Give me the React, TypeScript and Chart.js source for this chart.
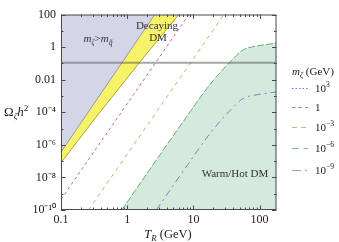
import React, { useEffect, useRef } from "react";
import { Chart, registerables } from "chart.js";

Chart.register(...registerables);

// ---- axis ranges ----
const X_MIN = 0.1;
const X_MAX = 180;
const Y_MIN = 1e-10;
const Y_MAX = 100;

// ---- tick values ----
const yTickValues = [1e-10, 1e-9, 1e-8, 1e-7, 1e-6, 1e-5, 1e-4, 1e-3, 1e-2, 1e-1, 1, 10, 100];
const xTickValues = [0.1, 1, 10, 100];

// ---- region boundaries (T_R in GeV, Omega h^2) ----
const purpleT = [0.1, 2.61];
const purpleOmega = [3.6e-7, 100];
const yellowT = [0.1, 0.322, 1.6, 6.03];
const yellowOmega = [7.8e-8, 3.9e-5, 0.14, 100];
const relicT = [0.1, 180];
const relicOmega = [0.11, 0.11];

// ---- m_zeta curves ----
const pinkT = [0.1, 8.57]; // m = 1 GeV
const pinkOmega = [4.5e-10, 100];
const oliveT = [0.261, 29]; // m = 1e-3 GeV
const oliveOmega = [1e-10, 100];
const greenT = [0.826, 8.26, 17.8, 35.7, 56.2, 91.6, 144, 180]; // m = 1e-6 GeV
const greenOmega = [1e-10, 6.8e-5, 5.0e-3, 0.122, 0.664, 1.17, 1.55, 1.78];
const blueT = [2.75, 8.26, 17.8, 35.7, 56.2, 91.6, 144, 180]; // m = 1e-9 GeV
const blueOmega = [1e-10, 6.3e-8, 5.0e-6, 1.26e-4, 6.9e-4, 1.2e-3, 1.58e-3, 1.78e-3];

// ---- legend ----
const legendBase = ["10", "1", "10", "10", "10"];
const legendExp = ["3", "", "\u22123", "\u22126", "\u22129"];
const legendColors = ["#7a7ac4", "#c76f9e", "#c9b877", "#7cc28e", "#8ea6d6"];
const legendDashes = [[1.5, 2], [3.5, 3], [5, 4], [7, 4.5], [9, 4, 2, 4]];
const legendY = [88, 107, 127, 148, 170];

const FONT = '"Liberation Serif", "Times New Roman", serif';

type Seg = { t: string; it?: boolean; pos?: "sub" | "sup" };

function drawRich(
  ctx: CanvasRenderingContext2D,
  segs: Seg[],
  x: number,
  y: number,
  size: number,
  align: "left" | "center" | "right",
  color = "#1a1a1a"
) {
  const fontFor = (s: Seg) => `${s.it ? "italic " : ""}${s.pos ? size * 0.7 : size}px ${FONT}`;
  let w = 0;
  for (const s of segs) {
    ctx.font = fontFor(s);
    w += ctx.measureText(s.t).width;
  }
  let cx = align === "center" ? x - w / 2 : align === "right" ? x - w : x;
  ctx.textAlign = "left";
  ctx.textBaseline = "alphabetic";
  ctx.fillStyle = color;
  for (const s of segs) {
    ctx.font = fontFor(s);
    const dy = s.pos === "sub" ? size * 0.25 : s.pos === "sup" ? -size * 0.42 : 0;
    ctx.fillText(s.t, cx, y + dy);
    cx += ctx.measureText(s.t).width;
  }
}

const supMap: Record<string, string> = {
  "-": "\u207B", "0": "\u2070", "1": "\u00B9", "2": "\u00B2", "3": "\u00B3", "4": "\u2074",
  "5": "\u2075", "6": "\u2076", "7": "\u2077", "8": "\u2078", "9": "\u2079",
};

function yLabel(v: number): string {
  const e = Math.round(Math.log10(v));
  if (e % 2 !== 0) return "";
  if (e === 2) return "100";
  if (e === 0) return "1";
  if (e === -2) return "0.01";
  return "10" + String(e).split("").map((c) => supMap[c]).join("");
}

const pts = (xs: number[], ys: number[]) => xs.map((x, i) => ({ x, y: ys[i] }));

const framePlugin = {
  id: "frameTicks",
  afterDatasetsDraw(chart: any) {
    const { ctx, chartArea: a, scales } = chart;
    ctx.save();
    ctx.strokeStyle = "#4a4a4a";
    ctx.lineWidth = 1;
    ctx.strokeRect(a.left + 0.5, a.top + 0.5, a.right - a.left - 1, a.bottom - a.top - 1);
    ctx.beginPath();
    for (const v of yTickValues) {
      const e = Math.round(Math.log10(v));
      const len = e % 2 === 0 ? 4.5 : 2.5;
      const p = Math.round(scales.y.getPixelForValue(v)) + 0.5;
      ctx.moveTo(a.left, p);
      ctx.lineTo(a.left + len, p);
      ctx.moveTo(a.right, p);
      ctx.lineTo(a.right - len, p);
    }
    for (const d of xTickValues) {
      for (let k = 1; k <= 9; k++) {
        const v = d * k;
        if (v > X_MAX * 1.0001) break;
        const len = k === 1 ? 4.5 : 2.5;
        const p = Math.round(scales.x.getPixelForValue(v)) + 0.5;
        ctx.moveTo(p, a.bottom);
        ctx.lineTo(p, a.bottom - len);
        ctx.moveTo(p, a.top);
        ctx.lineTo(p, a.top + len);
      }
    }
    ctx.stroke();
    ctx.restore();
  },
  afterDraw(chart: any) {
    const ctx: CanvasRenderingContext2D = chart.ctx;
    ctx.save();
    // axis titles
    drawRich(ctx, [{ t: "\u03A9" }, { t: "\u03B6", it: true, pos: "sub" }, { t: "h", it: true }, { t: "2", pos: "sup" }], 4, 116, 13, "left");
    drawRich(ctx, [{ t: "T", it: true }, { t: "R", it: true, pos: "sub" }, { t: " (GeV)" }], 168, 238, 12.5, "center");
    // region labels
    drawRich(ctx, [{ t: "m", it: true }, { t: "\u03B6", it: true, pos: "sub" }, { t: ">" }, { t: "m", it: true }, { t: "q\u0303", it: true, pos: "sub" }], 98, 42, 11, "center", "#333");
    drawRich(ctx, [{ t: "Decaying" }], 157, 29, 11, "center", "#333");
    drawRich(ctx, [{ t: "DM" }], 158, 41, 11, "center", "#333");
    drawRich(ctx, [{ t: "Warm/Hot DM" }], 235, 177, 11, "center", "#333");
    // legend
    drawRich(ctx, [{ t: "m", it: true }, { t: "\u03B6", it: true, pos: "sub" }, { t: " (GeV)" }], 292, 75, 11, "left");
    for (let i = 0; i < legendBase.length; i++) {
      const y = legendY[i] + 0.5;
      ctx.save();
      ctx.strokeStyle = legendColors[i];
      ctx.lineWidth = 1;
      ctx.setLineDash(legendDashes[i]);
      ctx.beginPath();
      ctx.moveTo(292, y);
      ctx.lineTo(308, y);
      ctx.stroke();
      ctx.restore();
      const segs: Seg[] = [{ t: legendBase[i] }];
      if (legendExp[i]) segs.push({ t: legendExp[i], pos: "sup" });
      drawRich(ctx, segs, 315, legendY[i] + 4, 11, "left");
    }
    ctx.restore();
  },
};

export default function App() {
  const ref = useRef<HTMLCanvasElement | null>(null);
  useEffect(() => {
    document.body.style.margin = "0";
    const canvas = ref.current;
    if (!canvas) return;
    const chart = new Chart(canvas, {
      type: "line",
      data: {
        datasets: [
          { label: "relic", data: pts(relicT, relicOmega), borderColor: "rgba(95,95,95,0.55)", borderWidth: 2, fill: false },
          { label: "1e-9", data: pts(blueT, blueOmega), borderColor: "#6d88c4", borderWidth: 1, borderDash: [7, 4, 2, 4], fill: false, cubicInterpolationMode: "monotone" },
          { label: "1e-6", data: pts(greenT, greenOmega), borderColor: "#5fb173", borderWidth: 1, borderDash: [7, 2], fill: "start", backgroundColor: "#d5eadc", cubicInterpolationMode: "monotone" },
          { label: "1", data: pts(pinkT, pinkOmega), borderColor: "#c76497", borderWidth: 1, borderDash: [3, 3], fill: false },
          { label: "1e-3", data: pts(oliveT, oliveOmega), borderColor: "#c4b06c", borderWidth: 1, borderDash: [4, 4], fill: false },
          { label: "purple", data: pts(purpleT, purpleOmega), borderColor: "#8c8c6a", borderWidth: 0.8, fill: "end", backgroundColor: "#d5d5e8" },
          { label: "yellow", data: pts(yellowT, yellowOmega), borderColor: "#8c8c50", borderWidth: 0.8, fill: "end", backgroundColor: "#f6f26a" },
        ],
      },
      options: {
        animation: false,
        responsive: false,
        events: [],
        layout: { padding: { left: 0, top: 14.5, right: 62.5, bottom: 0 } },
        elements: { point: { radius: 0 }, line: { tension: 0 } },
        plugins: {
          legend: { display: false },
          tooltip: { enabled: false },
          filler: { drawTime: "beforeDatasetDraw" },
        } as any,
        scales: {
          x: {
            type: "logarithmic",
            min: X_MIN,
            max: X_MAX,
            grid: { display: false, drawTicks: false },
            border: { display: false },
            afterBuildTicks: (scale: any) => {
              scale.ticks = xTickValues.map((v) => ({ value: v }));
            },
            afterFit: (scale: any) => {
              scale.height = 32;
            },
            ticks: {
              autoSkip: false,
              maxRotation: 0,
              padding: 3,
              color: "#1a1a1a",
              font: { family: FONT, size: 12 },
              callback: (v: any) => (Number(v) >= 1 ? String(Math.round(Number(v))) : "0.1"),
            },
          },
          y: {
            type: "logarithmic",
            min: Y_MIN,
            max: Y_MAX,
            grid: { display: false, drawTicks: false },
            border: { display: false },
            afterBuildTicks: (scale: any) => {
              scale.ticks = yTickValues.map((v) => ({ value: v }));
            },
            afterFit: (scale: any) => {
              scale.width = 61;
            },
            ticks: {
              autoSkip: false,
              padding: 5,
              color: "#1a1a1a",
              font: { family: FONT, size: 12 },
              callback: (v: any) => yLabel(Number(v)),
            },
          },
        },
      } as any,
      plugins: [framePlugin],
    });
    return () => chart.destroy();
  }, []);
  return (
    <div style={{ width: 339, height: 242 }}>
      <canvas ref={ref} width={339} height={242} style={{ display: "block" }} />
    </div>
  );
}
